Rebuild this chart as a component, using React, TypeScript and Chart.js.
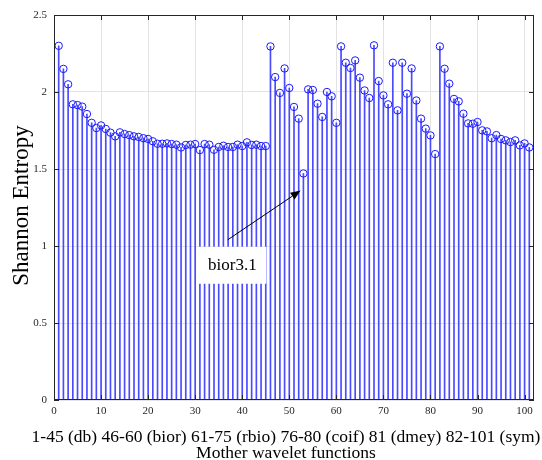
import React, { useEffect, useRef } from "react";
import { Chart, registerables } from "chart.js";

Chart.register(...registerables);

// Wavelet index (1..101)
const waveletIndex: number[] = [
  1, 2, 3, 4, 5, 6, 7, 8, 9, 10, 11, 12, 13, 14, 15, 16, 17, 18, 19, 20,
  21, 22, 23, 24, 25, 26, 27, 28, 29, 30, 31, 32, 33, 34, 35, 36, 37, 38, 39, 40,
  41, 42, 43, 44, 45, 46, 47, 48, 49, 50, 51, 52, 53, 54, 55, 56, 57, 58, 59, 60,
  61, 62, 63, 64, 65, 66, 67, 68, 69, 70, 71, 72, 73, 74, 75, 76, 77, 78, 79, 80,
  81, 82, 83, 84, 85, 86, 87, 88, 89, 90, 91, 92, 93, 94, 95, 96, 97, 98, 99, 100, 101,
];

// Shannon entropy per mother wavelet
const entropy: number[] = [
  2.30, 2.15, 2.05, 1.92, 1.915, 1.905, 1.857, 1.80, 1.766, 1.783,
  1.76, 1.736, 1.712, 1.738, 1.727, 1.72, 1.712, 1.708, 1.70, 1.695,
  1.68, 1.664, 1.664, 1.666, 1.662, 1.658, 1.64, 1.656, 1.658, 1.662,
  1.623, 1.662, 1.658, 1.625, 1.643, 1.651, 1.643, 1.643, 1.658, 1.649,
  1.673, 1.656, 1.658, 1.649, 1.649, 2.296, 2.097, 1.994, 2.153, 2.026,
  1.903, 1.827, 1.471, 2.017, 2.013, 1.924, 1.838, 2.0, 1.972, 1.80,
  2.296, 2.19, 2.156, 2.205, 2.093, 2.01, 1.961, 2.303, 2.071, 1.978,
  1.92, 2.19, 1.881, 2.19, 1.989, 2.153, 1.945, 1.827, 1.762, 1.718,
  1.597, 2.296, 2.151, 2.054, 1.955, 1.939, 1.859, 1.796, 1.794, 1.805,
  1.751, 1.744, 1.70, 1.72, 1.695, 1.686, 1.675, 1.686, 1.653, 1.666,
  1.64,
];

const xTicks: number[] = [0, 10, 20, 30, 40, 50, 60, 70, 80, 90, 100];
const yTicks: number[] = [0, 0.5, 1, 1.5, 2, 2.5];

const xTitleLines: string[] = [
  "1-45 (db) 46-60 (bior) 61-75 (rbio) 76-80 (coif) 81 (dmey) 82-101 (sym)",
  "Mother wavelet functions",
];
const yTitle = "Shannon Entropy";

// Annotation (data coordinates)
const annotationText = "bior3.1";
const annotationBox = { x: 37.9, y: 0.875 };
const arrowTail = { x: 36.9, y: 1.04 };
const arrowHead = { x: 52.4, y: 1.36 };

const FONT = '"Liberation Serif", "DejaVu Serif", serif';
const STEM = "#4a4aff";
const MARK = "#1a1aff";
const AXIS = "#262626";

const decorPlugin = {
  id: "decor",
  afterDatasetsDraw(chart: any) {
    const { ctx, chartArea: a, scales } = chart;
    const xs = scales.x;
    const ys = scales.y;
    ctx.save();
    // box
    ctx.strokeStyle = AXIS;
    ctx.lineWidth = 1;
    ctx.strokeRect(Math.round(a.left) + 0.5, Math.round(a.top) + 0.5,
      Math.round(a.right - a.left) - 1, Math.round(a.bottom - a.top) - 1);
    // inward ticks
    const tl = 5;
    ctx.beginPath();
    xTicks.forEach((t) => {
      const px = Math.round(xs.getPixelForValue(t)) + 0.5;
      ctx.moveTo(px, a.bottom);
      ctx.lineTo(px, a.bottom - tl);
      ctx.moveTo(px, a.top);
      ctx.lineTo(px, a.top + tl);
    });
    yTicks.forEach((t) => {
      const py = Math.round(ys.getPixelForValue(t)) + 0.5;
      ctx.moveTo(a.left, py);
      ctx.lineTo(a.left + tl, py);
      ctx.moveTo(a.right, py);
      ctx.lineTo(a.right - tl, py);
    });
    ctx.stroke();

    // annotation: arrow
    const tx = xs.getPixelForValue(arrowTail.x);
    const ty = ys.getPixelForValue(arrowTail.y);
    const hx = xs.getPixelForValue(arrowHead.x);
    const hy = ys.getPixelForValue(arrowHead.y);
    const ang = Math.atan2(hy - ty, hx - tx);
    const hl = 10;
    const hw = 4;
    const bx = hx - hl * Math.cos(ang);
    const by = hy - hl * Math.sin(ang);
    ctx.strokeStyle = "#000";
    ctx.fillStyle = "#000";
    ctx.beginPath();
    ctx.moveTo(tx, ty);
    ctx.lineTo(bx, by);
    ctx.stroke();
    ctx.beginPath();
    ctx.moveTo(hx, hy);
    ctx.lineTo(bx + hw * Math.sin(ang), by - hw * Math.cos(ang));
    ctx.lineTo(bx - hw * Math.sin(ang), by + hw * Math.cos(ang));
    ctx.closePath();
    ctx.fill();

    // annotation: text box
    const cx = xs.getPixelForValue(annotationBox.x);
    const cy = ys.getPixelForValue(annotationBox.y);
    const bw = 68;
    const bh = 37;
    ctx.fillStyle = "#ffffff";
    ctx.fillRect(cx - bw / 2, cy - bh / 2, bw, bh);
    ctx.fillStyle = "#000";
    ctx.font = `17px ${FONT}`;
    ctx.textAlign = "center";
    ctx.textBaseline = "middle";
    ctx.fillText(annotationText, cx, cy);

    // axis titles
    ctx.fillStyle = "#000";
    ctx.font = `17.5px ${FONT}`;
    const mx = (a.left + a.right) / 2 - 8;
    ctx.fillText(xTitleLines[0], mx, a.bottom + 37);
    ctx.fillText(xTitleLines[1], mx, a.bottom + 53);

    ctx.translate(a.left - 32, (a.top + a.bottom) / 2 - 2);
    ctx.rotate(-Math.PI / 2);
    ctx.font = `23px ${FONT}`;
    ctx.fillText(yTitle, 0, 0);
    ctx.restore();
  },
};

export default function App() {
  const ref = useRef<HTMLCanvasElement | null>(null);

  useEffect(() => {
    document.body.style.margin = "0";
    const points = waveletIndex.map((x, i) => ({ x, y: entropy[i] }));
    const chart = new Chart(ref.current as HTMLCanvasElement, {
      type: "scatter",
      data: {
        datasets: [
          {
            type: "scatter",
            data: points,
            pointStyle: "circle",
            pointRadius: 3.7,
            borderColor: MARK,
            backgroundColor: "rgba(0,0,0,0)",
            borderWidth: 1,
            order: 0,
          } as any,
          {
            type: "bar",
            data: points,
            backgroundColor: STEM,
            barThickness: 1,
            order: 1,
          } as any,
        ],
      },
      options: {
        animation: false,
        responsive: false,
        maintainAspectRatio: false,
        layout: { padding: { top: 15, right: 8, bottom: 0, left: 0 } },
        plugins: {
          legend: { display: false },
          tooltip: { enabled: false },
        },
        scales: {
          x: {
            type: "linear",
            min: 0,
            max: 102,
            offset: false,
            afterFit: (s: any) => {
              s.height = 60;
            },
            afterBuildTicks: (s: any) => {
              s.ticks = xTicks.map((v) => ({ value: v }));
            },
            grid: {
              color: "#e3e3e3",
              drawTicks: false,
              offset: false,
            },
            border: { display: false },
            ticks: {
              padding: 5,
              maxRotation: 0,
              color: AXIS,
              font: { family: FONT, size: 11 },
            },
          },
          y: {
            type: "linear",
            min: 0,
            max: 2.5,
            afterFit: (s: any) => {
              s.width = 54;
            },
            afterBuildTicks: (s: any) => {
              s.ticks = yTicks.map((v) => ({ value: v }));
            },
            grid: { color: "#e3e3e3", drawTicks: false },
            border: { display: false },
            ticks: {
              padding: 7,
              color: AXIS,
              font: { family: FONT, size: 11 },
              callback: (v: any) => String(v),
            },
          },
        },
      },
      plugins: [decorPlugin],
    });
    return () => chart.destroy();
  }, []);

  return (
    <div style={{ width: 542, height: 460 }}>
      <canvas ref={ref} width={542} height={460} style={{ display: "block" }} />
    </div>
  );
}
